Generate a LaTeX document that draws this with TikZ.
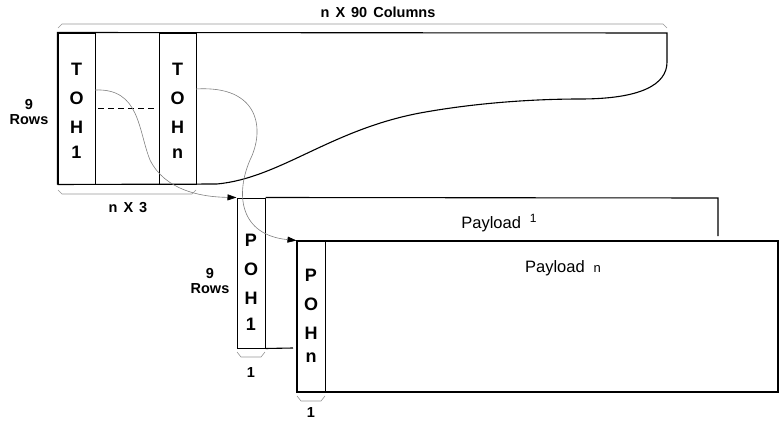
\documentclass[tikz,border=0pt]{standalone}
\usepackage{fontspec}
\setmainfont{Liberation Sans}
\usetikzlibrary{arrows.meta}
\definecolor{braceg}{RGB}{150,150,150}

\begin{document}
\begin{tikzpicture}[
  x=1pt, y=-1pt,
  every node/.style={font=\fontsize{16.5}{18}\selectfont},
  col/.style={draw, line width=1pt, minimum width=28pt, inner sep=0pt},
  coltext/.style={inner sep=0pt, align=center, font=\fontsize{18}{29}\selectfont\bfseries},
  frame/.style={line width=1.1pt},
  brace/.style={draw=braceg, line width=0.6pt},
  link/.style={draw=gray, line width=0.6pt, -{Triangle[length=9pt, width=6pt, color=black]}},
  lbl/.style={inner sep=1pt, align=center, font=\fontsize{14.5}{15}\selectfont\bfseries}
]
\useasboundingbox (0,0) rectangle (780,423);

  % Trama STM-n
  \node[col, minimum width=37pt, minimum height=151pt] (toh1) at (76.5,108.5) {};
  \node[col, minimum width=37pt, minimum height=151pt] (tohn) at (177.5,108.5) {};
  \node[coltext] (toh1t) at (76.5,111) {T\\O\\H\\[-4pt]1};
  \node[coltext] (tohnt) at (177.5,111) {T\\O\\H\\[-4pt]n};
  \draw[frame] (toh1.south west) -- (toh1.north west) -- (667,33) -- (667,62)
    .. controls (667,85) and (640,99) .. (580,99)
    .. controls (540,99) and (480,102) .. (420,113)
    .. controls (330,130) and (280,178) .. (217,184) -- (toh1.south west);
  \draw[frame] (toh1.north east) -- (tohn.north west);
  \draw[frame] (toh1.south east) -- (tohn.south west);
  \draw[dashed, dash pattern=on 6pt off 4pt, line width=0.8pt] (98,108) -- (156,108);

  % Graffe
  \draw[brace] (58,28) -- (62,24) -- (663,24) -- (667,28);
  \draw[brace] (58,190) -- (62,194) -- (192,194) -- (196,190);
  \draw[brace] (237,352) -- (241,357) -- (261,357) -- (265,352);
  \draw[brace] (297,396) -- (301,401) -- (321,401) -- (325,396);

  % Etichette
  \node[lbl] (cols) at (378,12) {n\hspace{6pt}X\hspace{6pt}90\hspace{6pt}Columns};
  \node[lbl] (ncols) at (128,208) {n\hspace{6pt}X\hspace{6pt}3};
  \node[lbl] (rows1) at (29,112) {9\\Rows};
  \node[lbl] (rows2) at (210,281) {9\\Rows};
  \node[lbl] (one1) at (251,373) {1};
  \node[lbl] (onen) at (311,413) {1};

  % Payload
  \node[col, minimum height=150pt] (poh1) at (251,273) {};
  \node[coltext] (poh1t) at (251,282) {P\\O\\H\\[-3pt]1};
  \draw[frame] (poh1.north east) -- (718,198) -- (718,236);
  \draw[frame] (poh1.south east) -- (293,348);
  \node[draw, line width=1.1pt, minimum width=481pt, minimum height=151pt] (payn) at (537.5,316.5) {};
  \node[col, minimum height=151pt] (pohn) at (311,316.5) {};
  \node[coltext] (pohnt) at (311,316) {P\\O\\H\\[-6pt]n};
  \node (pay1) at (499,223) {Payload\hspace{9pt}\raisebox{6pt}{\fontsize{12}{12}\selectfont 1}};
  \node (payln) at (563,268) {Payload\hspace{9pt}{\fontsize{13}{13}\selectfont n}};

  % Collegamenti
  \coordinate (src1) at (95,90);
  \coordinate (srcn) at (196,89);
  \draw[link] (src1) .. controls (140,88) and (138,130) .. (150,160)
    .. controls (165,190) and (200,197) .. (poh1.north west);
  \draw[link] (srcn) .. controls (260,85) and (265,130) .. (250,160)
    .. controls (235,195) and (240,235) .. (pohn.north west);

\end{tikzpicture}
\end{document}
